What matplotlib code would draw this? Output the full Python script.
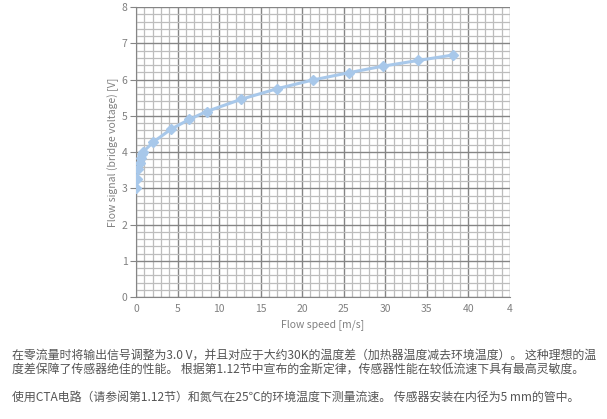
import numpy as np
import matplotlib.pyplot as plt
from matplotlib.ticker import MultipleLocator

plt.rcParams['font.family'] = ['Noto Sans CJK SC', 'DejaVu Sans']

# Flow speed [m/s] and flow signal [V]
speed = [0, 0.1, 0.3, 0.5, 0.6, 0.7, 0.87, 2.1, 4.2, 6.4, 8.5, 12.7, 17.0, 21.3, 25.6, 29.7, 34.0, 38.2]
signal = [3.02, 3.25, 3.53, 3.71, 3.83, 3.94, 4.01, 4.28, 4.63, 4.90, 5.12, 5.46, 5.75, 5.99, 6.19, 6.37, 6.53, 6.68]

x_ticks = [0, 5, 10, 15, 20, 25, 30, 35, 40, 45]
x_labels = ['0', '5', '10', '15', '20', '25', '30', '35', '40', '4']
y_ticks = [0, 1, 2, 3, 4, 5, 6, 7, 8]

caption = [
    "在零流量时将输出信号调整为3.0 V，并且对应于大约30K的温度差（加热器温度减去环境温度）。 这种理想的温",
    "度差保障了传感器绝佳的性能。 根据第1.12节中宣布的金斯定律，传感器性能在较低流速下具有最高灵敏度。",
    "使用CTA电路（请参阅第1.12节）和氮气在25℃的环境温度下测量流速。 传感器安装在内径为5 mm的管中。",
]

fig = plt.figure(figsize=(6.07, 4.19), dpi=100)
ax = fig.add_axes([0.224, 0.291, 0.616, 0.692])

ax.plot(speed, signal, color='#a8c8ea', lw=2.2, marker='D', ms=5,
        markerfacecolor='#a8c8ea', markeredgecolor='#a8c8ea', zorder=3)

ax.set_xlim(0, 45)
ax.set_ylim(0, 8)
ax.set_xticks(x_ticks)
ax.set_xticklabels(x_labels)
ax.set_yticks(y_ticks)
ax.xaxis.set_minor_locator(MultipleLocator(1))
ax.yaxis.set_minor_locator(MultipleLocator(0.2))

ax.grid(which='major', color='#858585', lw=1.0)
ax.grid(which='minor', color='#bdbdbd', lw=0.9)
ax.set_axisbelow(True)

for s in ['top', 'right']:
    ax.spines[s].set_visible(False)
for s in ['left', 'bottom']:
    ax.spines[s].set_color('#858585')

ax.tick_params(which='both', colors='#858585', labelsize=7.5, labelcolor='#808080')
ax.tick_params(which='minor', length=0)
ax.tick_params(axis='x', which='major', length=0, pad=5)
ax.tick_params(axis='y', which='major', length=4, pad=2)

ax.set_xlabel('Flow speed [m/s]', fontsize=7.5, color='#808080', labelpad=4)
ax.set_ylabel('Flow signal (bridge voltage) [V]', fontsize=7.5, color='#808080', labelpad=2)

fig.text(0.02, 0.153, caption[0], fontsize=8.6, color='#555555', va='center')
fig.text(0.02, 0.119, caption[1], fontsize=8.6, color='#555555', va='center')
fig.text(0.02, 0.0525, caption[2], fontsize=8.6, color='#555555', va='center')

fig.savefig('out.png', dpi=100)
